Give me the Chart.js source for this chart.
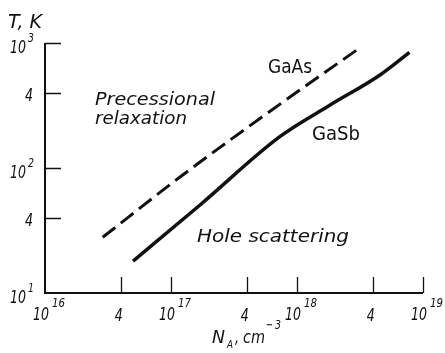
<!DOCTYPE html>
<html>
<head>
<meta charset="utf-8">
<script src="https://cdn.jsdelivr.net/npm/chart.js@4/dist/chart.umd.min.js"></script>
<style>
html, body { margin: 0; padding: 0; background: #fff; }
</style>
</head>
<body>
<canvas id="tChart" width="445" height="353"></canvas>
<script>
// values (N_A in cm^-3, T in K)
var gaAsN = [2.87e16, 1.18e17, 5.08e17, 3.22e18];
var gaAsT = [27.9, 84.7, 249, 929];
var gaSbN = [5.0e16, 1.7e17, 7.3e17, 1.83e18, 4.56e18, 7.8e18];
var gaSbT = [18, 50.6, 178, 319, 555, 840];

// tick labels: base + superscript
var xTickVals = [1e16, 4e16, 1e17, 4e17, 1e18, 4e18, 1e19];
var xTickBase = ['10', '4', '10', '4', '10', '4', '10'];
var xTickExp = ['16', '', '17', '', '18', '', '19'];
var yTickVals = [1e1, 4e1, 1e2, 4e2, 1e3];
var yTickBase = ['10', '4', '10', '4', '10'];
var yTickExp = ['1', '', '2', '', '3'];

function pts(xs, ys) {
    return xs.map(function (v, i) { return { x: v, y: ys[i] }; });
}

// draws text, squeezed to a given width if w is set
function txt(ctx, s, x, y, size, style, w, align) {
    ctx.save();
    ctx.font = style + ' ' + size + 'px "DejaVu Sans"';
    var m = ctx.measureText(s).width;
    var k = w ? w / m : 1;
    ctx.translate(x, y);
    ctx.scale(k, 1);
    ctx.textBaseline = 'alphabetic';
    var dx = 0;
    if (align === 'center') dx = -m / 2;
    if (align === 'right') dx = -m;
    ctx.fillStyle = '#111';
    ctx.fillText(s, dx, 0);
    ctx.restore();
}

var axesPlugin = {
    id: 'axesPlugin',
    afterDatasetsDraw: function (chart) {
        var ctx = chart.ctx;
        var xs = chart.scales.x, ys = chart.scales.y;
        var x0 = xs.getPixelForValue(1e16), x1 = xs.getPixelForValue(1e19);
        var y0 = ys.getPixelForValue(1e1), y1 = ys.getPixelForValue(1e3);

        ctx.save();
        ctx.strokeStyle = '#111';
        ctx.lineWidth = 2;
        ctx.beginPath();
        ctx.moveTo(x0, y1);
        ctx.lineTo(x0, y0);
        ctx.lineTo(x1, y0);
        ctx.stroke();

        // inward ticks
        ctx.lineWidth = 1.3;
        ctx.beginPath();
        xTickVals.forEach(function (v, i) {
            if (i === 0) return;
            var px = Math.round(xs.getPixelForValue(v)) + 0.5;
            ctx.moveTo(px, y0);
            ctx.lineTo(px, y0 - 16);
        });
        yTickVals.forEach(function (v, i) {
            if (i === 0) return;
            var py = Math.round(ys.getPixelForValue(v)) + 0.5;
            ctx.moveTo(x0, py);
            ctx.lineTo(x0 + 16, py);
        });
        ctx.stroke();
        ctx.restore();

        // x tick labels
        xTickVals.forEach(function (v, i) {
            var px = xs.getPixelForValue(v);
            if (xTickExp[i]) {
                txt(ctx, xTickBase[i], px - 4, y0 + 27, 17, 'italic', 16, 'center');
                txt(ctx, xTickExp[i], px + 7, y0 + 14, 12, 'italic', 13, 'left');
            } else {
                txt(ctx, xTickBase[i], px - 2, y0 + 28, 17, 'italic', 8, 'center');
            }
        });
        // y tick labels
        yTickVals.forEach(function (v, i) {
            var py = ys.getPixelForValue(v);
            if (yTickExp[i]) {
                txt(ctx, yTickBase[i], x0 - 19, py + 10, 17, 'italic', 16, 'right');
                txt(ctx, yTickExp[i], x0 - 17, py - 1, 12, 'italic', 6, 'left');
            } else {
                txt(ctx, yTickBase[i], x0 - 16, py + 8, 17, 'italic', 8, 'center');
            }
        });

        // axis titles
        txt(ctx, 'T, K', 8, 28, 19, 'italic', 34, 'left');
        txt(ctx, 'N', 212, 343, 17, 'italic', 13, 'left');
        txt(ctx, 'A', 227, 348, 11, 'italic', 6, 'left');
        txt(ctx, ',', 235, 343, 17, 'italic', 4, 'left');
        txt(ctx, 'cm', 243, 343, 17, 'italic', 22, 'left');
        txt(ctx, '\u2212', 266, 329, 13, 'normal', 7, 'left');
        txt(ctx, '3', 275, 329, 12, 'italic', 6, 'left');

        // annotations
        txt(ctx, 'Precessional', 95, 105, 17, 'italic', 120, 'left');
        txt(ctx, 'relaxation', 95, 124, 17, 'italic', 92, 'left');
        txt(ctx, 'Hole scattering', 197, 242, 17, 'italic', 152, 'left');
        txt(ctx, 'GaAs', 268, 73, 19, 'normal', 44, 'left');
        txt(ctx, 'GaSb', 312, 140, 19, 'normal', 48, 'left');
    }
};

var ctx = document.getElementById('tChart').getContext('2d');
var myChart = new Chart(ctx, {
    type: 'scatter',
    data: {
        datasets: [
            {
                label: 'GaAs',
                data: pts(gaAsN, gaAsT),
                showLine: true,
                borderColor: '#111',
                borderWidth: 3,
                borderDash: [16, 7],
                pointRadius: 0,
                cubicInterpolationMode: 'monotone'
            },
            {
                label: 'GaSb',
                data: pts(gaSbN, gaSbT),
                showLine: true,
                borderColor: '#111',
                borderWidth: 3.5,
                pointRadius: 0,
                cubicInterpolationMode: 'monotone'
            }
        ]
    },
    options: {
        responsive: false,
        animation: false,
        layout: { padding: { left: 45, right: 22, top: 43, bottom: 60 } },
        scales: {
            x: { type: 'logarithmic', min: 1e16, max: 1e19, display: false },
            y: { type: 'logarithmic', min: 1e1, max: 1e3, display: false }
        },
        plugins: {
            legend: { display: false },
            tooltip: { enabled: false }
        }
    },
    plugins: [axesPlugin]
});
</script>
</body>
</html>
